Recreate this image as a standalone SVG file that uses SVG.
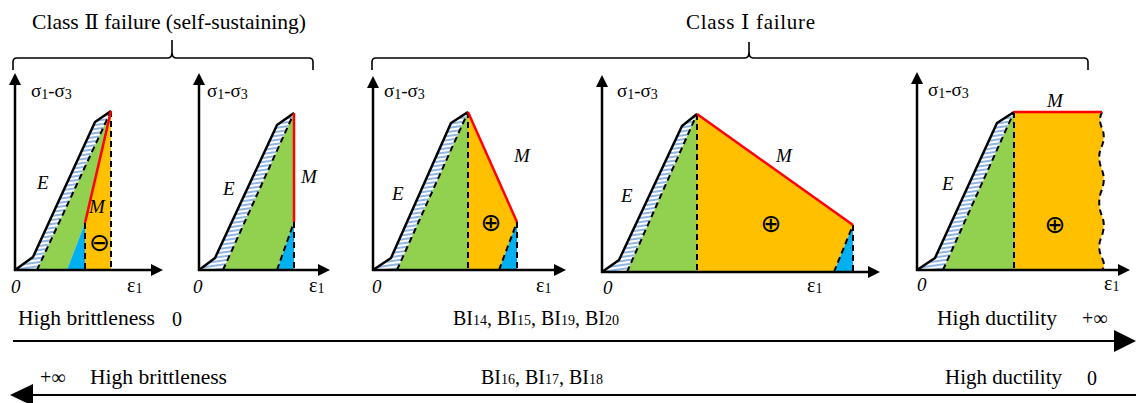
<svg xmlns="http://www.w3.org/2000/svg" width="1136" height="403" viewBox="0 0 1136 403" font-family="'Liberation Serif','Times New Roman',serif">
<style>
text{font-family:"Liberation Serif","Times New Roman","DejaVu Serif","Noto Sans CJK SC",serif;fill:#000}
.lab{font-size:19px}
.eps{font-size:20px}
.it{font-style:italic;font-size:19px}
.big{font-size:20px}
.head{font-size:21px}
.sub{font-size:14px}
.bsub{font-size:14px}
.sym{font-family:"DejaVu Sans",sans-serif;font-size:25px;text-anchor:middle}
.hatch{fill:url(#hatch)}
.g{fill:#92d050}
.o{fill:#ffc000}
.b{fill:#00b0f0}
.curve{fill:none;stroke:#000;stroke-width:2.5;stroke-linejoin:round}
.dash{fill:none;stroke:#000;stroke-width:2;stroke-dasharray:6 4}
.red{fill:none;stroke:#ff0000;stroke-width:2.5}
.axis{fill:none;stroke:#000;stroke-width:2.5;marker-end:url(#ah)}
.brace{fill:none;stroke:#000;stroke-width:1.6}
.bar{stroke:#000;stroke-width:2.2}
</style>
<defs>
<pattern id="hatch" width="5" height="4" patternUnits="userSpaceOnUse" patternTransform="rotate(-8)">
<rect width="5" height="4" fill="#ffffff"/>
<rect width="5" height="2" fill="#8fb6e3"/>
</pattern>
<marker id="ah" viewBox="0 0 12 12" refX="8" refY="6" markerWidth="12" markerHeight="12" orient="auto" markerUnits="userSpaceOnUse">
<path d="M0,0 L12,6 L0,12 Z" fill="#000"/>
</marker>
</defs>

<g id="header">
<text class="head" x="32" y="29" textLength="274" lengthAdjust="spacingAndGlyphs">Class Ⅱ failure (self-sustaining)</text>
<path class="brace" d="M13,70 V62 Q13,58 17,58 H168 Q172,58 172,52 V40 M172,52 Q172,58 176,58 H309 Q313,58 313,62 V70"/>
<text class="head" x="686" y="29" textLength="129" lengthAdjust="spacing">Class Ⅰ failure</text>
<path class="brace" d="M372,70 V62 Q372,58 376,58 H745 Q749,58 749,52 V42 M749,52 Q749,58 753,58 H1084 Q1088,58 1088,62 V70"/>
</g>

<g id="panel1">
<polygon class="hatch" points="15,270 33,257 95,122 111,111 37,270"/>
<polygon class="g" points="37,270 111,111 85,223 67,270"/>
<polygon class="o" points="111,111 85,223 85,270 111,270"/>
<polygon class="b" points="67,270 85,223 85,270"/>
<polyline class="curve" points="15,270 33,257 95,122 111,111"/>
<path class="dash" d="M37,270 L111,111 M111,111 V270 M85,223 V270"/>
<path class="red" d="M111,111 L85,223"/>
<path class="axis" d="M15,271 V77"/>
<path class="axis" d="M14,270 H159"/>
<text class="lab" x="31" y="97">σ<tspan class="sub" dy="2">1</tspan><tspan dy="-2">-σ</tspan><tspan class="sub" dy="2">3</tspan></text>
<text class="it" x="37" y="189">E</text>
<text class="it" x="89" y="213">M</text>
<text class="sym" x="99.5" y="251">⊖</text>
<text class="it" x="11" y="293">0</text>
<text class="eps" x="127" y="292">ε<tspan class="sub" dy="1">1</tspan></text>
</g>

<g id="panel2">
<polygon class="hatch" points="199,270 215,258 277,125 294,113 223,270"/>
<polygon class="g" points="223,270 294,113 294,222 277,270"/>
<polygon class="b" points="277,270 294,222 294,270"/>
<polyline class="curve" points="199,270 215,258 277,125 294,113"/>
<path class="dash" d="M223,270 L294,113 M277,270 L294,222 M294,222 V270"/>
<path class="red" d="M294,113 V222"/>
<path class="axis" d="M199,271 V77"/>
<path class="axis" d="M198,270 H326"/>
<text class="lab" x="207" y="97">σ<tspan class="sub" dy="2">1</tspan><tspan dy="-2">-σ</tspan><tspan class="sub" dy="2">3</tspan></text>
<text class="it" x="223" y="195">E</text>
<text class="it" x="301" y="183">M</text>
<text class="it" x="193" y="293">0</text>
<text class="eps" x="309" y="292">ε<tspan class="sub" dy="1">1</tspan></text>
</g>

<g id="panel3">
<polygon class="hatch" points="373,270 391,258 451,123 468,112 397,270"/>
<polygon class="g" points="397,270 468,112 468,270"/>
<polygon class="o" points="468,112 517,222 499,270 468,270"/>
<polygon class="b" points="499,270 517,222 517,270"/>
<polyline class="curve" points="373,270 391,258 451,123 468,112"/>
<path class="dash" d="M397,270 L468,112 M468,112 V270 M499,270 L517,222 M517,222 V270"/>
<path class="red" d="M468,112 L517,222"/>
<path class="axis" d="M373,271 V80"/>
<path class="axis" d="M372,270 H562"/>
<text class="lab" x="384" y="97">σ<tspan class="sub" dy="2">1</tspan><tspan dy="-2">-σ</tspan><tspan class="sub" dy="2">3</tspan></text>
<text class="it" x="392" y="200">E</text>
<text class="it" x="514" y="162">M</text>
<text class="sym" x="491" y="231">⊕</text>
<text class="it" x="372" y="293">0</text>
<text class="eps" x="536" y="292">ε<tspan class="sub" dy="1">1</tspan></text>
</g>

<g id="panel4">
<polygon class="hatch" points="602,272 619,260 682,126 697,114 627,272"/>
<polygon class="g" points="627,272 697,114 697,272"/>
<polygon class="o" points="697,114 853,225 834,272 697,272"/>
<polygon class="b" points="834,272 853,225 853,272"/>
<polyline class="curve" points="602,272 619,260 682,126 697,114"/>
<path class="dash" d="M627,272 L697,114 M697,114 V272 M834,272 L853,225 M853,225 V272"/>
<path class="red" d="M697,114 L853,225"/>
<path class="axis" d="M602,273 V79"/>
<path class="axis" d="M601,272 H876"/>
<text class="lab" x="617" y="97">σ<tspan class="sub" dy="2">1</tspan><tspan dy="-2">-σ</tspan><tspan class="sub" dy="2">3</tspan></text>
<text class="it" x="621" y="202">E</text>
<text class="it" x="776" y="162">M</text>
<text class="sym" x="771" y="232">⊕</text>
<text class="it" x="603" y="294">0</text>
<text class="eps" x="807" y="292">ε<tspan class="sub" dy="1">1</tspan></text>
</g>

<g id="panel5">
<polygon class="hatch" points="917,270 935,258 997,123 1014,112 943,270"/>
<polygon class="g" points="943,270 1014,112 1014,270"/>
<path class="o" d="M1014,112 H1102 q-4,8 0,16 q4,10 -1,20 q-4,10 1,22 q4,10 -1,22 q-4,12 1,24 q4,10 -1,22 q-4,10 1,20 q4,8 0,12 L1014,270 Z"/>
<polyline class="curve" points="917,270 935,258 997,123 1014,112"/>
<path class="dash" d="M943,270 L1014,112 M1014,112 V270"/>
<path class="dash" d="M1102,112 q-4,8 0,16 q4,10 -1,20 q-4,10 1,22 q4,10 -1,22 q-4,12 1,24 q4,10 -1,22 q-4,10 1,20 q4,8 0,12"/>
<path class="red" d="M1014,112 H1102"/>
<path class="axis" d="M917,271 V76"/>
<path class="axis" d="M916,270 H1126"/>
<text class="lab" x="928" y="96">σ<tspan class="sub" dy="2">1</tspan><tspan dy="-2">-σ</tspan><tspan class="sub" dy="2">3</tspan></text>
<text class="it" x="942" y="190">E</text>
<text class="it" x="1047" y="107">M</text>
<text class="sym" x="1055" y="233">⊕</text>
<text class="it" x="917" y="291">0</text>
<text class="eps" x="1104" y="290">ε<tspan class="sub" dy="1">1</tspan></text>
</g>

<g id="scale-top">
<text class="big" x="18" y="325" textLength="137" lengthAdjust="spacingAndGlyphs">High brittleness</text>
<text class="big" x="172" y="326">0</text>
<text class="big" x="453" y="325">BI<tspan class="bsub">14</tspan>, BI<tspan class="bsub">15</tspan>, BI<tspan class="bsub">19</tspan>, BI<tspan class="bsub">20</tspan></text>
<text class="big" x="937" y="325" textLength="120" lengthAdjust="spacingAndGlyphs">High ductility</text>
<text class="big" x="1082" y="325">+∞</text>
</g>

<g id="scale-bottom">
<text class="big" x="40" y="384">+∞</text>
<text class="big" x="90" y="384" textLength="137" lengthAdjust="spacingAndGlyphs">High brittleness</text>
<text class="big" x="481" y="384">BI<tspan class="bsub">16</tspan>, BI<tspan class="bsub">17</tspan>, BI<tspan class="bsub">18</tspan></text>
<text class="big" x="945" y="384" textLength="117" lengthAdjust="spacingAndGlyphs">High ductility</text>
<text class="big" x="1087" y="385">0</text>
</g>

<g id="connectors">
<line class="bar" x1="13" y1="341" x2="1118" y2="341"/>
<polygon points="1114,330 1136,341 1114,352" fill="#000"/>
<line class="bar" x1="30" y1="395" x2="1136" y2="395"/>
<polygon points="33,384 10,395 33,406" fill="#000"/>
</g>
</svg>
